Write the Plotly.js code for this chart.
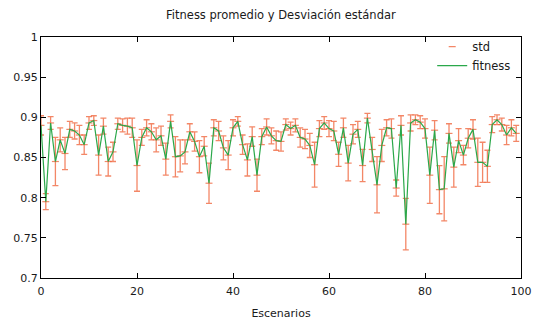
<!DOCTYPE html>
<html>
<head>
<meta charset="utf-8">
<script src="https://cdn.plot.ly/plotly-3.0.1.min.js"></script>
<style>html,body{margin:0;padding:0;background:#fff;}#chart{width:534px;height:326px;}</style>
</head>
<body>
<div id="chart"></div>
<script>
// Scenario index
var escenarios = [];
for (var i = 0; i < 100; i++) escenarios.push(i);

// Mean fitness per scenario
var fitness = [
  0.890, 0.795, 0.893, 0.845, 0.872, 0.855, 0.885, 0.883, 0.878, 0.866,
  0.893, 0.896, 0.853, 0.889, 0.845, 0.857, 0.892, 0.890, 0.889, 0.887,
  0.840, 0.875, 0.887, 0.882, 0.872, 0.877, 0.848, 0.895, 0.851, 0.852,
  0.857, 0.882, 0.870, 0.851, 0.864, 0.818, 0.887, 0.883, 0.862, 0.853,
  0.887, 0.895, 0.866, 0.847, 0.876, 0.828, 0.876, 0.888, 0.877, 0.871,
  0.870, 0.891, 0.886, 0.890, 0.875, 0.873, 0.865, 0.841, 0.886, 0.893,
  0.886, 0.883, 0.854, 0.887, 0.843, 0.879, 0.885, 0.840, 0.899, 0.860,
  0.816, 0.865, 0.887, 0.886, 0.812, 0.890, 0.767, 0.893, 0.897, 0.894,
  0.886, 0.828, 0.884, 0.810, 0.811, 0.880, 0.838, 0.871, 0.853, 0.874,
  0.885, 0.844, 0.844, 0.839, 0.891, 0.897, 0.891, 0.878, 0.887, 0.880
];

// Standard deviation per scenario
var desviacion = [
  0.012, 0.010, 0.008, 0.030, 0.015, 0.020, 0.010, 0.010, 0.012, 0.012,
  0.008, 0.006, 0.025, 0.010, 0.018, 0.012, 0.007, 0.008, 0.010, 0.012,
  0.032, 0.010, 0.010, 0.010, 0.015, 0.012, 0.020, 0.008, 0.025, 0.020,
  0.015, 0.010, 0.012, 0.020, 0.012, 0.025, 0.010, 0.012, 0.015, 0.018,
  0.010, 0.006, 0.012, 0.020, 0.012, 0.020, 0.010, 0.010, 0.010, 0.012,
  0.012, 0.007, 0.008, 0.008, 0.012, 0.012, 0.015, 0.028, 0.010, 0.008,
  0.010, 0.012, 0.015, 0.012, 0.022, 0.012, 0.010, 0.020, 0.006, 0.015,
  0.035, 0.020, 0.010, 0.012, 0.010, 0.012, 0.032, 0.010, 0.006, 0.008,
  0.012, 0.035, 0.012, 0.030, 0.040, 0.012, 0.025, 0.015, 0.012, 0.012,
  0.012, 0.030, 0.025, 0.020, 0.010, 0.006, 0.008, 0.012, 0.010, 0.010
];

var xTicks = [0, 20, 40, 60, 80, 100];
var yTickVals = [0.7, 0.75, 0.8, 0.85, 0.9, 0.95, 1];
var yTickText = ['0.7', '0.75', '0.8', '0.85', '0.9', '0.95', '1'];

var fontFam = 'DejaVu Sans, sans-serif';
var txt = '#1a1a1a';
var orange = 'rgba(240,105,65,0.8)';

var traces = [
  {
    name: 'std',
    x: escenarios,
    y: fitness,
    type: 'scatter',
    mode: 'markers',
    marker: {symbol: 'line-ew-open', size: 5, color: orange, line: {width: 1.2, color: orange}},
    error_y: {type: 'data', array: desviacion, visible: true, color: orange, thickness: 1.3, width: 3},
    cliponaxis: true
  },
  {
    name: 'fitness',
    x: escenarios,
    y: fitness,
    type: 'scatter',
    mode: 'lines',
    line: {color: '#2aa84a', width: 1.2}
  }
];

var layout = {
  width: 534,
  height: 326,
  margin: {l: 41, r: 13, t: 37, b: 48},
  paper_bgcolor: '#ffffff',
  plot_bgcolor: '#ffffff',
  font: {family: fontFam, size: 11, color: txt},
  title: {text: 'Fitness promedio y Desviación estándar', font: {family: fontFam, size: 11.5, color: txt}, x: 0.526, xanchor: 'center', y: 0.955, yanchor: 'middle'},
  showlegend: true,
  legend: {x: 0.99, xanchor: 'right', y: 1.02, yanchor: 'top', bgcolor: 'rgba(0,0,0,0)', font: {family: fontFam, size: 11.5, color: txt}, tracegroupgap: 0},
  xaxis: {
    range: [0, 100],
    tickvals: xTicks,
    ticks: 'inside', ticklen: 5, tickcolor: '#000', tickwidth: 1,
    mirror: 'ticks', showline: true, linecolor: '#000', linewidth: 1,
    showgrid: false, zeroline: false,
    ticklabelstandoff: 3,
    tickfont: {family: fontFam, size: 11, color: txt},
    title: {text: 'Escenarios', font: {family: fontFam, size: 11, color: txt}, standoff: 12}
  },
  yaxis: {
    range: [0.7, 1],
    tickvals: yTickVals, ticktext: yTickText,
    ticks: 'inside', ticklen: 5, tickcolor: '#000', tickwidth: 1,
    mirror: 'ticks', showline: true, linecolor: '#000', linewidth: 1,
    showgrid: false, zeroline: false,
    tickfont: {family: fontFam, size: 11, color: txt}
  }
};

Plotly.newPlot('chart', traces, layout, {staticPlot: true, displayModeBar: false});
</script>
</body>
</html>
